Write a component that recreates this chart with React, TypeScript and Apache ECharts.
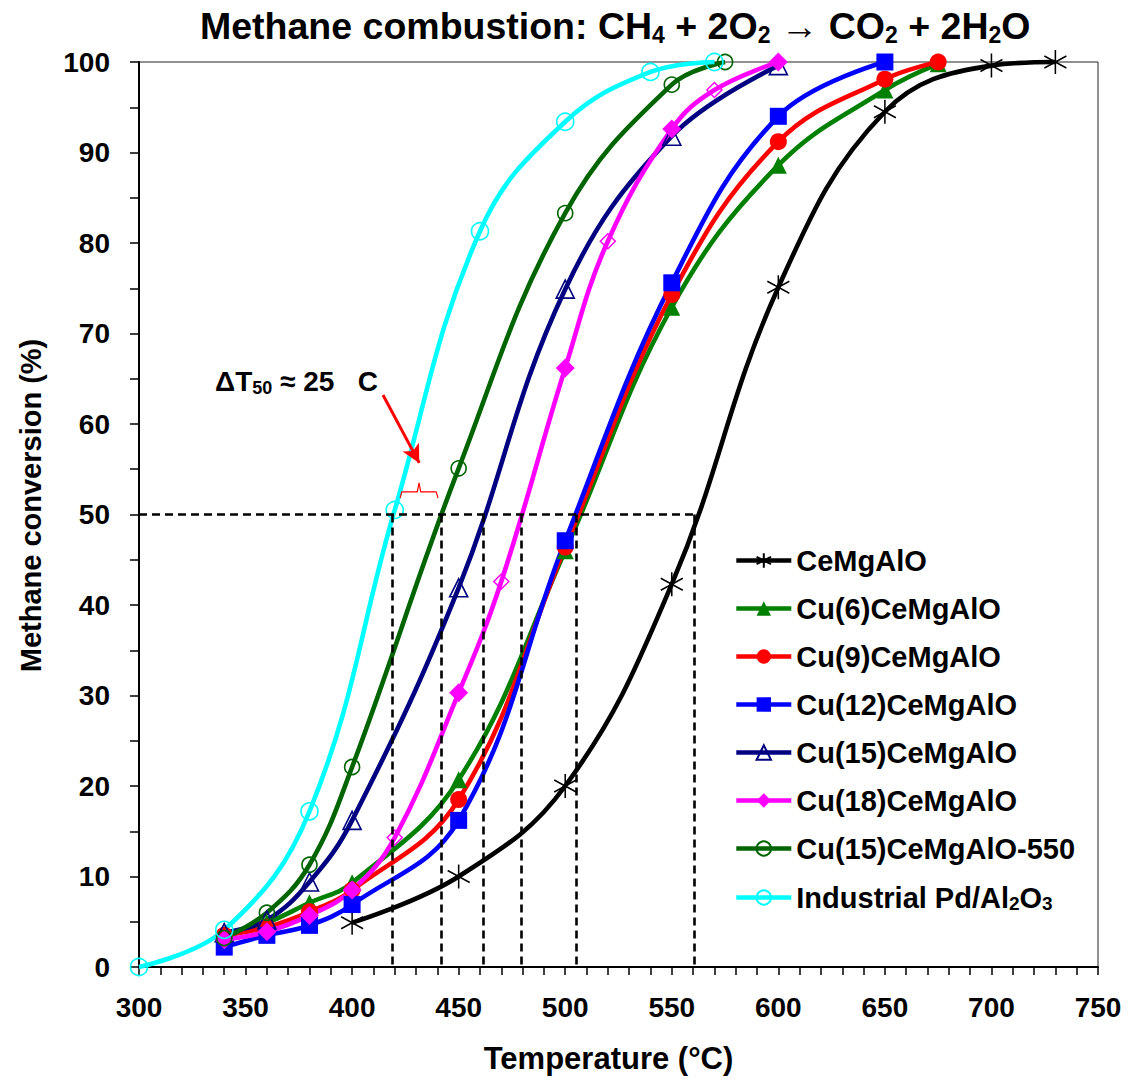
import React, { useEffect, useRef } from "react";
import * as echarts from "echarts";

// ---------- data ----------
const T_CE = [400, 450, 500, 550, 600, 650, 700, 730];
const Y_CE = [4.9, 10.0, 20.0, 42.3, 75.1, 94.5, 99.6, 100];

const T_CU6 = [340, 360, 380, 400, 450, 500, 550, 600, 650, 675];
const Y_CU6 = [3.6, 4.9, 7.1, 9.3, 20.7, 46.0, 72.9, 88.6, 96.9, 99.8];

const T_CU9 = [340, 360, 380, 400, 450, 500, 550, 600, 650, 675];
const Y_CU9 = [3.5, 4.4, 6.1, 8.5, 18.5, 46.4, 74.3, 91.2, 98.1, 100];

const T_CU12 = [340, 360, 380, 400, 450, 500, 550, 600, 650];
const Y_CU12 = [2.2, 3.5, 4.6, 6.9, 16.2, 47.1, 75.6, 94.0, 100];

const T_CU15 = [340, 360, 380, 400, 450, 500, 550, 600];
const Y_CU15 = [3.8, 5.2, 9.4, 16.2, 41.9, 74.9, 91.8, 99.6];

const T_CU18 = [340, 360, 380, 400, 420, 450, 470, 500, 520, 550, 570, 600];
const Y_CU18 = [3.0, 3.9, 5.7, 8.5, 14.3, 30.3, 42.6, 66.2, 80.2, 92.6, 96.9, 100];
const CU18_OPEN = [false, false, false, false, true, false, true, false, true, false, true, false];

const T_CU15_550 = [340, 360, 380, 400, 450, 500, 550, 575];
const Y_CU15_550 = [3.2, 6.0, 11.3, 22.1, 55.1, 83.3, 97.5, 100];

const T_PD = [300, 340, 380, 420, 460, 500, 540, 570];
const Y_PD = [0, 4.1, 17.2, 50.5, 81.3, 93.4, 98.9, 100];

// T50 guide lines
const T50_LEVEL = 50;
const T50_VALUES = [419, 442, 461.5, 479.5, 505, 560.5];

// annotation arrow (data coords) and bracket
const ARROW_FROM = [414.5, 63.2];
const ARROW_TO = [431.5, 55.7];
const BRACKET_T = [422.5, 423.3, 430.6, 431.4, 432.2, 439.5, 440.3];
const BRACKET_Y = [51.8, 52.5, 52.5, 53.5, 52.5, 52.5, 51.8];

const X_TICKS = { min: 300, max: 750, interval: 50 };
const Y_TICKS = { min: 0, max: 100, interval: 10 };

const FONT = "'Liberation Sans', Arial, sans-serif";
const ASTERISK = "path://M0,-10L0,10M-8.7,-5L8.7,5M-8.7,5L8.7,-5";
const CLEAR = "rgba(0,0,0,0)";

const zip = (xs: number[], ys: number[]) => xs.map((x, i) => [x, ys[i]]);

type Def = {
  name: string;
  color: string;
  symbol: string;
  size: number | number[];
  open?: boolean;
  t: number[];
  y: number[];
  openFlags?: boolean[];
};

const DEFS: Def[] = [
  { name: "CeMgAlO", color: "#000000", symbol: ASTERISK, size: [22, 24], open: true, t: T_CE, y: Y_CE },
  { name: "Cu(6)CeMgAlO", color: "#008000", symbol: "triangle", size: 17, t: T_CU6, y: Y_CU6 },
  { name: "Cu(9)CeMgAlO", color: "#ff0000", symbol: "circle", size: 17, t: T_CU9, y: Y_CU9 },
  { name: "Cu(12)CeMgAlO", color: "#0000ff", symbol: "rect", size: 17, t: T_CU12, y: Y_CU12 },
  { name: "Cu(15)CeMgAlO", color: "#000080", symbol: "triangle", size: 18, open: true, t: T_CU15, y: Y_CU15 },
  { name: "Cu(18)CeMgAlO", color: "#ff00ff", symbol: "diamond", size: 19, t: T_CU18, y: Y_CU18, openFlags: CU18_OPEN },
  { name: "Cu(15)CeMgAlO-550", color: "#006400", symbol: "circle", size: 15, open: true, t: T_CU15_550, y: Y_CU15_550 },
  { name: "Industrial Pd/Al2O3", color: "#00ffff", symbol: "circle", size: 17, open: true, t: T_PD, y: Y_PD },
];

function buildSeries(): any[] {
  const out: any[] = DEFS.map((d) => {
    const data = zip(d.t, d.y).map((p, i) => {
      if (d.openFlags && d.openFlags[i]) {
        return {
          value: p,
          symbolSize: 15,
          itemStyle: { color: CLEAR, borderColor: d.color, borderWidth: 1.5 },
        };
      }
      return p;
    });
    return {
      name: d.name,
      type: "line",
      smooth: 0.4,
      clip: false,
      symbol: d.symbol,
      symbolSize: d.size,
      data,
      color: d.color,
      lineStyle: { color: d.color, width: 4.6 },
      itemStyle: d.open
        ? { color: CLEAR, borderColor: d.color, borderWidth: 1.6 }
        : { color: d.color, borderColor: d.color, borderWidth: 0 },
      emphasis: { disabled: true },
      z: 3,
    };
  });

  // dashed T50 guides
  const guides: any[] = [
    [{ coord: [X_TICKS.min, T50_LEVEL] }, { coord: [T50_VALUES[T50_VALUES.length - 1], T50_LEVEL] }],
    ...T50_VALUES.map((t) => [{ coord: [t, T50_LEVEL] }, { coord: [t, 0] }]),
  ];
  out.push({
    name: "guides",
    type: "line",
    data: [],
    silent: true,
    markLine: {
      silent: true,
      symbol: ["none", "none"],
      label: { show: false },
      lineStyle: { color: "#000", width: 2.6, type: [8, 5] },
      emphasis: { disabled: true },
      data: guides,
    },
    z: 2,
  });

  // arrow
  out.push({
    name: "arrow",
    type: "line",
    data: [],
    silent: true,
    markLine: {
      silent: true,
      symbol: ["none", "arrow"],
      symbolSize: [14, 18],
      label: { show: false },
      lineStyle: { color: "#ff0000", width: 3, type: "solid" },
      emphasis: { disabled: true },
      data: [[{ coord: ARROW_FROM }, { coord: ARROW_TO }]],
    },
    z: 5,
  });

  // bracket
  out.push({
    name: "bracket",
    type: "line",
    data: zip(BRACKET_T, BRACKET_Y),
    symbol: "none",
    silent: true,
    lineStyle: { color: "#ff0000", width: 1.2 },
    z: 5,
  });
  return out;
}

const richText = {
  a: { fontSize: 29, fontWeight: "bold", fontFamily: FONT, color: "#000", lineHeight: 32 },
  s: { fontSize: 19, fontWeight: "bold", fontFamily: FONT, color: "#000", lineHeight: 20, padding: [12, 0, 0, 0] },
};

function legendFormatter(name: string) {
  if (name === "Industrial Pd/Al2O3") return "{a|Industrial Pd/Al}{s|2}{a|O}{s|3}";
  return "{a|" + name + "}";
}

export default function App() {
  const ref = useRef<HTMLDivElement>(null);
  useEffect(() => {
    if (!ref.current) return;
    const chart = echarts.init(ref.current, null, { renderer: "svg" });
    const option: any = {
      animation: false,
      backgroundColor: "#ffffff",
      title: {
        text: "{a|Methane combustion: CH}{s|4}{a| + 2O}{s|2}{a| → CO}{s|2}{a| + 2H}{s|2}{a|O}",
        left: 195,
        top: 0,
        textStyle: {
          rich: {
            a: { fontSize: 37.5, fontWeight: "bold", fontFamily: FONT, color: "#000", lineHeight: 42 },
            s: { fontSize: 23, fontWeight: "bold", fontFamily: FONT, color: "#000", lineHeight: 26, padding: [18, 0, 0, 0] },
          },
        },
      },
      grid: {
        left: 139,
        right: 31,
        top: 62,
        bottom: 117,
        show: true,
        borderColor: "#222",
        borderWidth: 1,
        backgroundColor: "transparent",
      },
      legend: {
        orient: "vertical",
        left: 729,
        top: 541,
        itemWidth: 55,
        itemHeight: 18,
        itemGap: 19,
        data: DEFS.map((d) => d.name),
        formatter: legendFormatter,
        textStyle: { rich: richText },
        lineStyle: { width: 4.6 },
        selectedMode: false,
      },
      xAxis: {
        type: "value",
        min: X_TICKS.min,
        max: X_TICKS.max,
        interval: X_TICKS.interval,
        name: "Temperature (°C)",
        nameLocation: "middle",
        nameGap: 76,
        nameTextStyle: { fontSize: 31, fontWeight: "bold", fontFamily: FONT, color: "#000", padding: [0, 20, 0, 0] },
        axisLine: { onZero: false, lineStyle: { color: "#000", width: 2 } },
        axisTick: { show: true, inside: false, length: 8, lineStyle: { color: "#000", width: 1.5 } },
        minorTick: { show: true, splitNumber: 5, length: 8, lineStyle: { color: "#000", width: 1.5 } },
        axisLabel: { fontSize: 28, fontWeight: "bold", fontFamily: FONT, color: "#000", margin: 26 },
        splitLine: { show: false },
      },
      yAxis: {
        type: "value",
        min: Y_TICKS.min,
        max: Y_TICKS.max,
        interval: Y_TICKS.interval,
        name: "Methane conversion (%)",
        nameLocation: "middle",
        nameGap: 94,
        nameTextStyle: { fontSize: 29, fontWeight: "bold", fontFamily: FONT, color: "#000", padding: [0, 0, 0, 18] },
        axisLine: { onZero: false, lineStyle: { color: "#000", width: 2 } },
        axisTick: { show: true, inside: false, length: 9, lineStyle: { color: "#000", width: 1.5 } },
        minorTick: { show: true, splitNumber: 2, length: 9, lineStyle: { color: "#000", width: 1.5 } },
        axisLabel: { fontSize: 28, fontWeight: "bold", fontFamily: FONT, color: "#000", margin: 29 },
        splitLine: { show: false },
      },
      graphic: [
        {
          type: "text",
          left: 215,
          top: 366,
          z: 10,
          style: {
            text: "{a|ΔT}{s|50}{a| ≈ 25   C}",
            rich: {
              a: { fontSize: 28, fontWeight: "bold", fontFamily: FONT, fill: "#000", lineHeight: 32 },
              s: { fontSize: 18, fontWeight: "bold", fontFamily: FONT, fill: "#000", lineHeight: 20, padding: [13, 0, 0, 0] },
            },
          },
        },
      ],
      series: buildSeries(),
    };
    chart.setOption(option);
    return () => chart.dispose();
  }, []);
  return (
    <div
      ref={ref}
      style={{ position: "absolute", left: 0, top: 0, width: 1129, height: 1084, background: "#fff" }}
    />
  );
}
